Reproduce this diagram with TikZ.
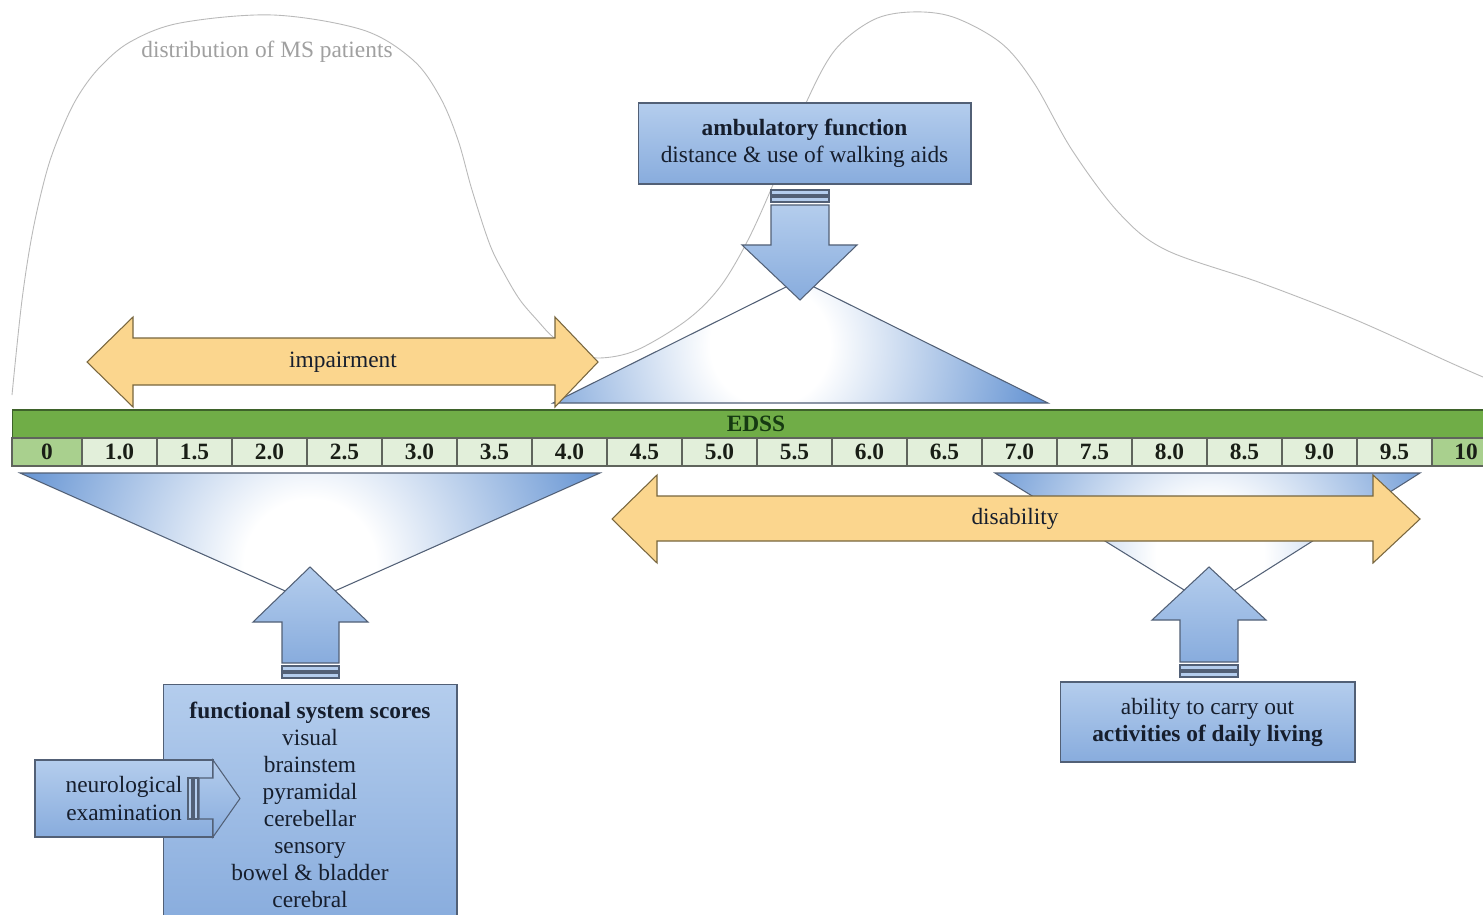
\documentclass[tikz,border=0pt]{standalone}
\usepackage{fontspec}
\setmainfont{Liberation Serif}

\definecolor{edssgreen}{RGB}{112,173,71}
\definecolor{edssdark}{RGB}{62,98,42}
\definecolor{edsstext}{RGB}{22,58,18}
\definecolor{cellfill}{RGB}{226,239,218}
\definecolor{cellend}{RGB}{169,208,142}
\definecolor{cellline}{RGB}{95,100,92}
\definecolor{celltext}{RGB}{25,30,22}
\definecolor{boxtop}{RGB}{180,205,237}
\definecolor{boxbot}{RGB}{136,172,221}
\definecolor{boxline}{RGB}{82,96,118}
\definecolor{glowblue}{RGB}{84,136,206}
\definecolor{rangefill}{RGB}{251,214,142}
\definecolor{rangeline}{RGB}{120,102,62}
\definecolor{curvegray}{RGB}{185,185,185}
\definecolor{labelgray}{RGB}{160,160,160}
\definecolor{inktext}{RGB}{22,30,45}

\newcommand\diagfont{\fontsize{13.3}{15.4}\selectfont}

\pgfdeclareradialshading{glow}{\pgfpoint{0bp}{0bp}}{%
  color(0bp)=(white); color(3bp)=(white); color(15bp)=(glowblue); color(50bp)=(glowblue)}

\tikzset{
  infobox/.style={draw=boxline, line width=0.6pt, top color=boxtop, bottom color=boxbot,
    align=center, text=inktext, inner sep=0pt},
  blockarrow/.style={draw=boxline, line width=0.6pt, top color=boxtop, bottom color=boxbot},
  stripe/.style={draw=boxline, line width=0.6pt, fill=boxtop},
  rangearrow/.style={draw=rangeline, line width=0.6pt, fill=rangefill},
  glowedge/.style={draw=boxline, line width=0.6pt},
  edsscell/.style={draw=cellline, line width=0.6pt, fill=cellfill, minimum height=0.56cm,
    inner sep=0pt, font=\diagfont\bfseries, text=celltext},
}

\begin{document}
\begin{tikzpicture}[x=0.02cm, y=-0.02cm, font=\diagfont, line join=miter]
\useasboundingbox (0,0) rectangle (1483,915);
\fill[white] (0,0) rectangle (1483,915);

% distribution curve
\draw[curvegray, line width=0.5pt] plot[smooth, tension=0.55] coordinates {
  (12,395) (22,300) (33,230) (48,167) (65,122) (80,93) (100,67) (130,42) (180,23)
  (273,15) (363,30) (413,60) (440,97) (458,140) (472,190) (490,245) (505,275)
  (520,300) (537,320) (553,337) (575,352) (600,358) (637,350) (687,320) (720,287)
  (748,240) (775,180) (806,103) (835,50) (873,20) (911,12) (953,17) (1001,43)
  (1034,83) (1072,150) (1119,213) (1166,250) (1261,283) (1356,320) (1451,363) (1483,377)};
\node[text=labelgray] (distlabel) at (267,52) {distribution of MS patients};

% ambulatory triangle
\begin{scope}
  \clip (553,403) -- (800,280) -- (1048,403) -- cycle;
  \shade[shading=glow] (770,345) circle[radius=10cm];
\end{scope}
\draw[glowedge] (553,403) -- (800,280) -- (1048,403) -- cycle;

% functional system triangle
\begin{scope}
  \clip (20,473) -- (600,473) -- (310,602) -- cycle;
  \shade[shading=glow] (310,565) circle[radius=11cm];
\end{scope}
\draw[glowedge] (20,473) -- (600,473) -- (310,602) -- cycle;

% daily living triangle
\begin{scope}
  \clip (995,473) -- (1420,473) -- (1210,606) -- cycle;
  \shade[shading=glow] (1210,555) circle[radius=9cm];
\end{scope}
\draw[glowedge] (995,473) -- (1420,473) -- (1210,606) -- cycle;

% EDSS scale
\node[draw=edssdark, line width=0.6pt, fill=edssgreen, minimum width=29.76cm, minimum height=0.56cm,
  inner sep=0pt, font=\diagfont\bfseries, text=edsstext] (edss) at (756,424) {EDSS};
\node[edsscell, fill=cellend, minimum width=1.4cm] (cell0) at (47,452) {0};
\foreach \v [count=\i] in {1.0,1.5,2.0,2.5,3.0,3.5,4.0,4.5,5.0,5.5,6.0,6.5,7.0,7.5,8.0,8.5,9.0,9.5}
  \node[edsscell, minimum width=1.5cm] (cell\i) at ({44.5+75*\i},452) {\v};
\node[edsscell, fill=cellend, minimum width=1.36cm] (cell10) at (1466,452) {10};

% impairment / disability
\draw[rangearrow] (87,362) -- (133,317) -- (133,338) -- (555,338) -- (555,317) -- (598,362)
  -- (555,407) -- (555,385) -- (133,385) -- (133,407) -- cycle;
\node[text=inktext] (impair) at (343,362) {impairment};
\draw[rangearrow] (612,519) -- (657,475) -- (657,496) -- (1373,496) -- (1373,475) -- (1420,519)
  -- (1373,563) -- (1373,541) -- (657,541) -- (657,563) -- cycle;
\node[text=inktext] (disab) at (1015,519) {disability};

% ambulatory function
\node[infobox, minimum width=6.66cm, minimum height=1.62cm] (amb) at (804.5,143.5)
  {\textbf{ambulatory function}\\distance \& use of walking aids};
\draw[stripe] (771,190) rectangle (829,195);
\draw[stripe] (771,197) rectangle (829,202);
\draw[blockarrow] (800,300) -- (857,245) -- (829,245) -- (829,205) -- (771,205) -- (771,245)
  -- (742,245) -- cycle;

% functional system scores
\draw[blockarrow] (310,567) -- (368,622) -- (339,622) -- (339,663) -- (282,663) -- (282,622)
  -- (253,622) -- cycle;
\draw[stripe] (282,666) rectangle (339,671);
\draw[stripe] (282,673) rectangle (339,678);
\node[infobox, minimum width=5.88cm, minimum height=4.82cm, anchor=north] (fss) at (310,684)
  {\textbf{functional system scores}\\visual\\brainstem\\pyramidal\\cerebellar\\sensory\\bowel \& bladder\\cerebral};

% neurological examination
\node[infobox, minimum width=3.56cm, minimum height=1.54cm] (neuro) at (124,798.5)
  {neurological\\examination};
\draw[blockarrow] (199,778) -- (213,778) -- (213,760) -- (240,798.5) -- (213,837) -- (213,819)
  -- (199,819) -- cycle;
\draw[stripe] (188,778) rectangle (192,819);
\draw[stripe] (194,778) rectangle (198,819);

% activities of daily living
\draw[blockarrow] (1209,567) -- (1266,620) -- (1238,620) -- (1238,662) -- (1180,662) -- (1180,620)
  -- (1152,620) -- cycle;
\draw[stripe] (1180,665) rectangle (1238,670);
\draw[stripe] (1180,672) rectangle (1238,677);
\node[infobox, minimum width=5.9cm, minimum height=1.6cm] (adl) at (1207.5,722)
  {ability to carry out\\\textbf{activities of daily living}};
\end{tikzpicture}
\end{document}
